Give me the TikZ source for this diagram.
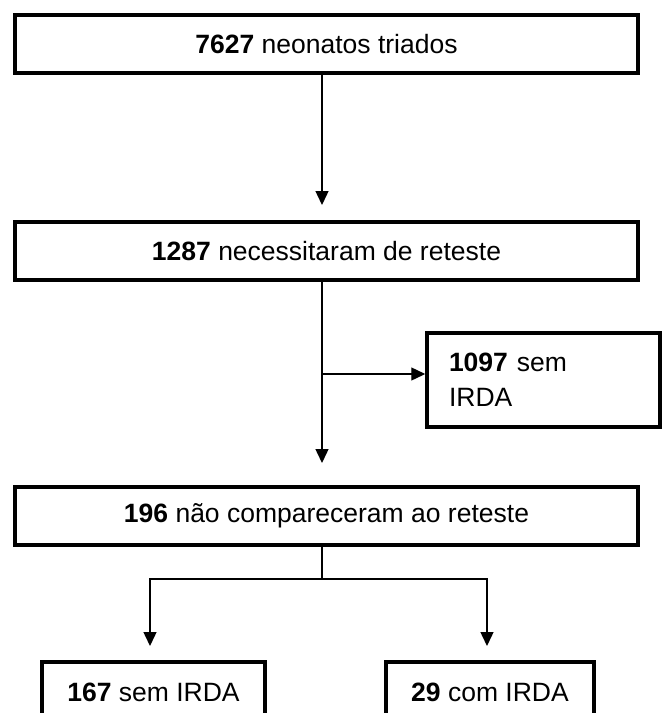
\documentclass[tikz,border=0pt]{standalone}
\usepackage{fontspec}
\setmainfont{Liberation Sans}
\usetikzlibrary{arrows.meta}
\begin{document}
\begin{tikzpicture}[x=1pt,y=-1pt,
  box/.style={draw, line width=3.5pt, rectangle, inner sep=0pt, font=\fontsize{26.5}{35}\selectfont},
  conn/.style={line width=1.4pt},
  arr/.style={conn, -{Triangle[length=14pt,width=13pt]}}]
\useasboundingbox (0,0) rectangle (664,713);
\clip (0,0) rectangle (664,713);
\node[box, minimum width=623pt, minimum height=58pt] (A) at (326.5,44) {\textbf{7627} neonatos triados};
\node[box, minimum width=623pt, minimum height=58pt] (B) at (326.5,251) {\textbf{1287} necessitaram de reteste};
\node[box, text width=189pt, inner xsep=22pt, minimum height=94pt, align=left] (D) at (543.5,380) {\textbf{1097} sem\\IRDA};
\node[box, minimum width=623pt, minimum height=58pt] (C) at (326.5,516) {\textbf{196} não compareceram ao reteste};
\node[box, minimum width=223pt, minimum height=60pt] (E) at (153.5,692) {\textbf{167} sem IRDA};
\node[box, minimum width=208pt, minimum height=60pt] (F) at (490,692) {\textbf{29} com IRDA};
\coordinate (tAB) at (322,205);
\coordinate (tBC) at (322,463);
\coordinate (br) at (322,374);
\coordinate (sp) at (322,579);
\coordinate (tE) at (150,646);
\coordinate (tF) at (487,646);
\draw[arr] (A.south -| tAB) -- (tAB);
\draw[arr] (B.south -| tBC) -- (tBC);
\draw[arr] (br) -- (br -| D.west);
\draw[conn] (C.south -| sp) -- (sp);
\draw[arr] (sp) -| (tE);
\draw[arr] (sp) -| (tF);
\end{tikzpicture}
\end{document}
